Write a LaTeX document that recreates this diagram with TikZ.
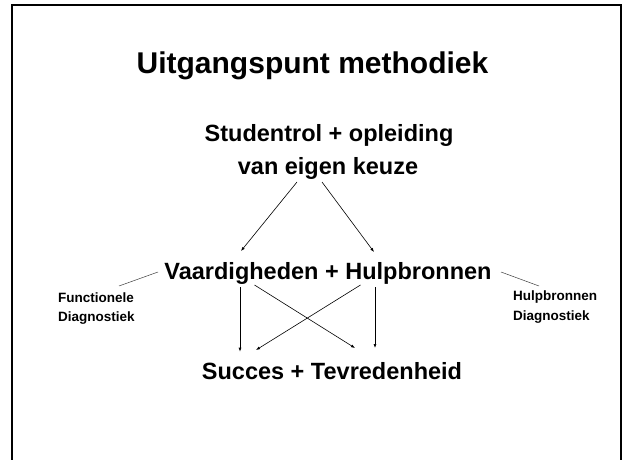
\documentclass[tikz,border=0pt]{standalone}
\usepackage{fontspec}
\setmainfont{Liberation Sans}
\usetikzlibrary{arrows.meta,calc}
\tikzset{
  txt/.style={inner sep=0pt, anchor=base, font=\bfseries\fontsize{23.5}{28}\selectfont},
  small/.style={inner sep=0pt, anchor=base west, font=\bfseries\fontsize{13.5}{16}\selectfont},
  conn/.style={line width=0.6pt, -{Latex[length=4pt,width=3pt]}},
  plain/.style={line width=0.5pt, draw=black!75},
}
\begin{document}
\begin{tikzpicture}[x=1pt,y=1pt]
\useasboundingbox (0,0) rectangle (622,459);
\fill[white] (0,0) rectangle (622,459);
\draw[line width=2pt] (12.2,-5) -- (12.2,454) -- (621,454) -- (621,-5);

\node[inner sep=0pt, anchor=base, font=\bfseries\fontsize{30}{36}\selectfont] (title) at (312.5,385.7) {Uitgangspunt methodiek};
\node[txt] (s1) at (329,317.3) {Studentrol + opleiding};
\node[txt] (s2) at (328,284) {van eigen keuze};
\node[txt] (vh) at (328,180) {Vaardigheden + Hulpbronnen};
\node[txt] (st) at (332,80) {Succes + Tevredenheid};
\node[small] (fl1) at (58,156.7) {Functionele};
\node[small] (fl2) at (58,137.3) {Diagnostiek};
\node[small] (hr1) at (513,158.3) {Hulpbronnen};
\node[small] (hr2) at (513,138.3) {Diagnostiek};

\draw[conn] ($(s2.base)+(-31,-7)$) -- ($(vh.base)+(-87,28)$);
\draw[conn] ($(s2.base)+(-6,-7)$) -- ($(vh.base)+(46,27)$);
\draw[conn] ($(vh.base)+(-88,-8)$) -- ($(st.base)+(-92,27.3)$);
\draw[conn] ($(vh.base)+(47,-8)$) -- ($(st.base)+(43,31)$);
\draw[conn] ($(vh.base)+(-73.5,-6)$) -- ($(st.base)+(23,31)$);
\draw[conn] ($(vh.base)+(32.5,-6)$) -- ($(st.base)+(-76,29)$);
\draw[plain] ($(vh.base)+(-170,7)$) -- ($(fl1.base west)+(61,16.3)$);
\draw[plain] ($(vh.base)+(173,7)$) -- ($(hr1.base west)+(26,14.7)$);
\end{tikzpicture}
\end{document}
